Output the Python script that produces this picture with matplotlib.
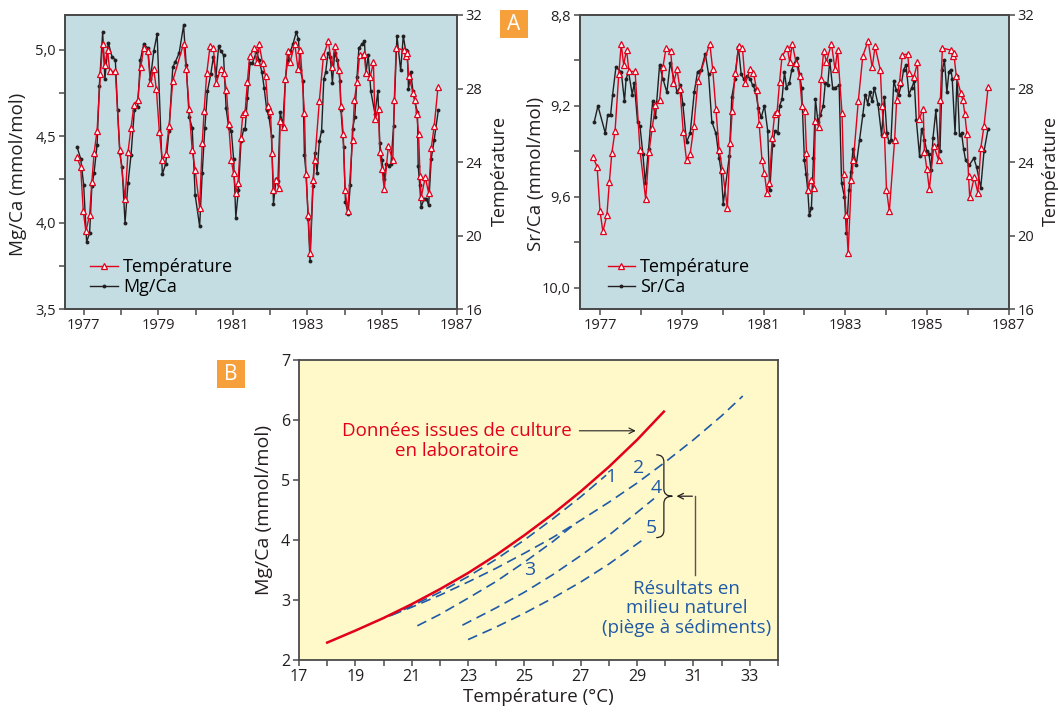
import matplotlib
matplotlib.use("Agg")
import matplotlib.pyplot as plt
from matplotlib.path import Path
from matplotlib.patches import PathPatch, Rectangle
from matplotlib.lines import Line2D

plt.rcParams['font.family'] = ['Open Sans', 'DejaVu Sans']

RED = '#e2001a'
DARK = '#231f20'
BLUE = '#1f5aa6'
BG_A = '#c3dde3'
BG_B = '#fff9c9'
ORANGE = '#f6a03b'
SPINE = '#4a4a4a'

# ---- panel A : monthly series (decimal years) ----
temp_years = [
    1976.82, 1976.92, 1976.99, 1977.06, 1977.16, 1977.22, 1977.28, 1977.36, 1977.45, 1977.51,
    1977.57, 1977.64, 1977.70, 1977.85, 1977.97, 1978.11, 1978.19, 1978.27, 1978.35, 1978.45,
    1978.53, 1978.61, 1978.72, 1978.79, 1978.88, 1978.95, 1979.03, 1979.11, 1979.20, 1979.29,
    1979.39, 1979.68, 1979.75, 1979.83, 1979.91, 1979.99, 1980.11, 1980.18, 1980.23, 1980.30,
    1980.39, 1980.48, 1980.55, 1980.67, 1980.75, 1980.83, 1980.89, 1980.96, 1981.02, 1981.08,
    1981.14, 1981.21, 1981.27, 1981.33, 1981.39, 1981.45, 1981.58, 1981.64, 1981.70, 1981.80,
    1981.88, 1981.94, 1982.01, 1982.05, 1982.09, 1982.15, 1982.23, 1982.27, 1982.36, 1982.41,
    1982.47, 1982.54, 1982.66, 1982.75, 1982.81, 1982.92, 1982.96, 1983.02, 1983.07, 1983.15,
    1983.20, 1983.32, 1983.43, 1983.56, 1983.66, 1983.73, 1983.86, 1983.90, 1983.96, 1984.01,
    1984.08, 1984.21, 1984.26, 1984.33, 1984.40, 1984.53, 1984.57, 1984.68, 1984.77, 1984.81,
    1984.91, 1984.94, 1985.00, 1985.06, 1985.17, 1985.29, 1985.33, 1985.38, 1985.59, 1985.63,
    1985.66, 1985.72, 1985.83, 1985.88, 1985.93, 1985.98, 1986.02, 1986.05, 1986.16, 1986.25,
    1986.32, 1986.40, 1986.50]
temp_vals = [
    24.28, 23.73, 21.35, 20.23, 21.14, 22.94, 24.49, 25.72, 28.79, 30.41,
    29.29, 30.12, 28.93, 28.93, 24.64, 21.97, 24.56, 25.86, 27.11, 27.40,
    29.15, 30.23, 30.05, 28.28, 29.04, 27.96, 25.65, 24.10, 24.46, 25.95,
    28.43, 30.45, 29.08, 26.88, 24.67, 23.59, 21.53, 25.03, 26.80, 28.82,
    30.32, 30.23, 28.28, 29.06, 28.86, 27.92, 26.05, 24.10, 23.39, 22.33,
    22.87, 25.32, 26.62, 26.75, 28.36, 29.75, 30.23, 29.42, 30.45, 29.37,
    28.66, 27.07, 26.80, 24.51, 22.51, 23.05, 22.62, 26.24, 25.90, 28.52,
    30.05, 29.46, 30.45, 29.04, 30.12, 26.68, 23.34, 21.14, 19.04, 23.05,
    24.13, 27.34, 29.78, 30.59, 29.15, 30.29, 29.01, 27.04, 25.54, 22.51,
    21.33, 25.23, 27.40, 28.34, 29.84, 29.87, 28.84, 28.61, 29.42, 26.35,
    26.91, 24.56, 23.61, 22.53, 24.87, 24.10, 27.38, 30.20, 30.09, 29.78,
    29.91, 28.68, 27.78, 27.38, 26.62, 25.54, 23.25, 22.09, 23.18, 22.33,
    24.75, 25.97, 28.07]

mg_years = [
    1976.82, 1976.92, 1977.00, 1977.08, 1977.16, 1977.22, 1977.28, 1977.36, 1977.42, 1977.51,
    1977.57, 1977.66, 1977.76, 1977.85, 1977.91, 1977.97, 1978.03, 1978.11, 1978.19, 1978.27,
    1978.36, 1978.45, 1978.52, 1978.61, 1978.72, 1978.79, 1978.88, 1978.97, 1979.11, 1979.20,
    1979.29, 1979.39, 1979.46, 1979.56, 1979.68, 1979.75, 1979.83, 1979.91, 1979.99, 1980.11,
    1980.18, 1980.25, 1980.32, 1980.41, 1980.48, 1980.55, 1980.62, 1980.68, 1980.75, 1980.82,
    1980.89, 1980.96, 1981.02, 1981.08, 1981.15, 1981.22, 1981.29, 1981.33, 1981.39, 1981.46,
    1981.52, 1981.64, 1981.70, 1981.78, 1981.84, 1981.91, 1981.97, 1982.04, 1982.09, 1982.16,
    1982.21, 1982.27, 1982.34, 1982.41, 1982.47, 1982.54, 1982.61, 1982.70, 1982.76, 1982.81,
    1982.88, 1982.92, 1982.97, 1983.02, 1983.07, 1983.15, 1983.20, 1983.26, 1983.32, 1983.38,
    1983.44, 1983.49, 1983.55, 1983.61, 1983.67, 1983.73, 1983.80, 1983.87, 1983.90, 1983.97,
    1984.02, 1984.09, 1984.15, 1984.21, 1984.27, 1984.33, 1984.38, 1984.46, 1984.53, 1984.57,
    1984.63, 1984.70, 1984.81, 1984.89, 1984.94, 1985.00, 1985.06, 1985.12, 1985.19, 1985.24,
    1985.31, 1985.40, 1985.50, 1985.57, 1985.63, 1985.68, 1985.71, 1985.77, 1985.83, 1985.88,
    1985.95, 1985.97, 1986.01, 1986.05, 1986.13, 1986.19, 1986.25, 1986.32, 1986.40, 1986.51]
mg_vals = [
    4.44, 4.37, 4.22, 3.89, 3.94, 4.21, 4.29, 4.45, 4.79, 5.10,
    4.83, 5.04, 4.96, 4.94, 4.65, 4.40, 4.32, 4.00, 4.23, 4.39,
    4.65, 4.67, 4.94, 5.03, 5.01, 4.83, 4.99, 5.09, 4.28, 4.34,
    4.53, 4.90, 4.93, 4.98, 5.14, 4.91, 4.61, 4.55, 4.16, 3.98,
    4.29, 4.55, 4.76, 4.86, 4.96, 4.85, 5.02, 4.99, 4.97, 4.66,
    4.55, 4.53, 4.37, 4.03, 4.19, 4.47, 4.54, 4.54, 4.72, 4.92,
    4.92, 4.99, 4.94, 4.87, 4.78, 4.65, 4.61, 4.50, 4.11, 4.25,
    4.24, 4.64, 4.56, 4.83, 4.94, 4.99, 5.03, 5.10, 5.06, 4.88,
    4.82, 4.39, 4.27, 4.02, 3.78, 4.21, 4.40, 4.29, 4.47, 4.53,
    4.83, 4.87, 4.98, 4.96, 4.81, 4.98, 4.94, 4.82, 4.65, 4.44,
    4.12, 4.05, 4.22, 4.54, 4.61, 4.84, 5.01, 5.03, 5.05, 4.86,
    4.97, 4.76, 4.63, 4.76, 4.46, 4.36, 4.25, 4.34, 4.33, 4.34,
    4.56, 5.08, 4.88, 5.08, 5.00, 4.99, 4.77, 4.87, 4.76, 4.70,
    4.64, 4.33, 4.22, 4.09, 4.14, 4.14, 4.10, 4.37, 4.48, 4.65]

sr_years = [
    1976.85, 1976.94, 1977.12, 1977.18, 1977.25, 1977.30, 1977.38, 1977.51, 1977.59, 1977.63,
    1977.69, 1977.78, 1977.83, 1977.91, 1977.97, 1978.04, 1978.10, 1978.18, 1978.28, 1978.35,
    1978.45, 1978.53, 1978.63, 1978.71, 1978.88, 1978.96, 1979.02, 1979.11, 1979.20, 1979.30,
    1979.38, 1979.47, 1979.57, 1979.65, 1979.73, 1979.83, 1979.91, 1979.96, 1980.01, 1980.16,
    1980.22, 1980.30, 1980.38, 1980.45, 1980.51, 1980.60, 1980.67, 1980.73, 1980.80, 1980.87,
    1980.94, 1981.02, 1981.10, 1981.15, 1981.22, 1981.28, 1981.35, 1981.39, 1981.45, 1981.51,
    1981.56, 1981.63, 1981.69, 1981.76, 1981.81, 1981.88, 1981.93, 1982.00, 1982.04, 1982.08,
    1982.12, 1982.17, 1982.22, 1982.27, 1982.33, 1982.39, 1982.46, 1982.51, 1982.57, 1982.62,
    1982.69, 1982.75, 1982.85, 1982.91, 1982.98, 1983.03, 1983.09, 1983.14, 1983.19, 1983.27,
    1983.35, 1983.43, 1983.49, 1983.55, 1983.60, 1983.66, 1983.71, 1983.80, 1983.89, 1983.96,
    1984.02, 1984.07, 1984.12, 1984.19, 1984.25, 1984.31, 1984.37, 1984.43, 1984.49, 1984.56,
    1984.63, 1984.69, 1984.74, 1984.82, 1984.87, 1984.94, 1985.00, 1985.05, 1985.10, 1985.15,
    1985.22, 1985.28, 1985.32, 1985.38, 1985.43, 1985.49, 1985.54, 1985.59, 1985.62, 1985.69,
    1985.74, 1985.80, 1985.85, 1985.90, 1985.95, 1986.04, 1986.15, 1986.22, 1986.32, 1986.40,
    1986.50]
sr_vals = [
    9.27, 9.20, 9.32, 9.24, 9.24, 9.15, 9.03, 9.05, 9.18, 9.08,
    9.05, 9.15, 9.10, 9.27, 9.29, 9.41, 9.54, 9.39, 9.18, 9.25,
    9.02, 9.08, 9.14, 9.01, 9.14, 9.11, 9.19, 9.36, 9.32, 9.14,
    9.05, 9.04, 8.97, 9.06, 9.27, 9.32, 9.43, 9.49, 9.63, 9.42,
    9.16, 9.08, 8.94, 9.06, 9.08, 9.07, 9.08, 9.11, 9.13, 9.21,
    9.25, 9.20, 9.31, 9.57, 9.37, 9.31, 9.32, 9.20, 9.17, 9.05,
    9.12, 9.10, 9.04, 9.01, 8.99, 9.06, 9.12, 9.44, 9.50, 9.57,
    9.68, 9.65, 9.43, 9.17, 9.27, 9.24, 9.20, 9.10, 9.11, 9.00,
    9.12, 9.12, 9.11, 9.54, 9.60, 9.76, 9.57, 9.49, 9.39, 9.46,
    9.35, 9.24, 9.15, 9.19, 9.14, 9.18, 9.12, 9.19, 9.33, 9.16,
    9.32, 9.36, 9.35, 9.09, 9.13, 9.15, 9.11, 9.04, 9.02, 9.15,
    9.12, 9.09, 9.26, 9.42, 9.30, 9.35, 9.40, 9.41, 9.48, 9.34,
    9.22, 9.37, 9.40, 9.04, 9.00, 9.14, 9.05, 9.04, 9.08, 9.32,
    9.07, 9.33, 9.32, 9.39, 9.44, 9.46, 9.43, 9.47, 9.56, 9.40,
    9.30]

year_ticks = list(range(1977, 1988))
mg_major = [3.5, 4.0, 4.5, 5.0]
mg_minor = [3.75, 4.25, 4.75]
sr_major = [8.8, 9.2, 9.6, 10.0]
sr_minor = [9.0, 9.4, 9.8]
temp_ticks = [16, 20, 24, 28, 32]

# ---- panel B : calibration curves ----
lab_t = [18, 19, 20, 21, 22, 23, 24, 25, 26, 27, 28, 29, 29.95]
lab_mg = [2.29, 2.49, 2.70, 2.93, 3.18, 3.45, 3.75, 4.08, 4.43, 4.81, 5.22, 5.67, 6.14]
nat_curves = {
    '1': ([20.2, 21, 22, 23, 24, 25, 26, 27, 27.9],
          [2.73, 2.90, 3.13, 3.39, 3.68, 4.00, 4.35, 4.72, 5.08]),
    '2': ([20.3, 21, 22, 23, 24, 25, 26, 27, 28, 29, 30, 31, 32, 32.75],
          [2.75, 2.88, 3.08, 3.30, 3.53, 3.78, 4.04, 4.33, 4.63, 4.95, 5.30, 5.67, 6.07, 6.40]),
    '3': ([21.2, 22, 23, 24, 25, 26, 26.85],
          [2.57, 2.76, 3.03, 3.31, 3.63, 3.97, 4.29]),
    '4': ([22.8, 24, 25, 26, 27, 28, 29, 29.6],
          [2.58, 2.87, 3.13, 3.42, 3.74, 4.08, 4.46, 4.69]),
    '5': ([23.0, 24, 25, 26, 27, 28, 29.25],
          [2.34, 2.55, 2.78, 3.03, 3.30, 3.60, 4.02]),
}
curve_labels = {'1': (28.05, 5.05), '2': (29.05, 5.2), '3': (25.2, 3.5),
                '4': (29.68, 4.87), '5': (29.52, 4.2)}

W, H = 1058, 713
fig = plt.figure(figsize=(W / 100, H / 100), dpi=100)


def px_rect(left, top, right, bottom):
    return [left / W, 1 - bottom / H, (right - left) / W, (bottom - top) / H]


def comma(v):
    return f'{v:.1f}'.replace('.', ',')


def style(ax, size=10):
    for s in ax.spines.values():
        s.set_color(SPINE)
        s.set_linewidth(1.3)
    ax.tick_params(which='both', direction='out', length=4.5, width=1.1,
                   color=SPINE, labelsize=size, labelcolor=DARK, pad=2)


def top_panel(rect, p_years, p_vals, p_name, ylim, major, minor, ylabel, ylab_x, tlab_x):
    ax = fig.add_axes(rect)
    ax.set_facecolor(BG_A)
    ax.plot(p_years, p_vals, color=DARK, lw=1.0, marker='o', ms=2.8, mew=0, zorder=2)
    ax.set_xlim(1976.5, 1987)
    ax.set_ylim(*ylim)
    ax.set_yticks(major)
    ax.set_yticklabels([comma(v) for v in major])
    ax.set_yticks(minor, minor=True)
    ax.set_xticks(year_ticks)
    ax.set_xticklabels([str(y) if y % 2 else '' for y in year_ticks])
    ax.set_ylabel(ylabel, fontsize=13.5, color=DARK)
    ax.yaxis.set_label_coords(ylab_x, 0.46)
    style(ax, 10.5)

    axt = ax.twinx()
    axt.plot(temp_years, temp_vals, color=RED, lw=1.0, marker='^', ms=5,
             mfc='white', mec=RED, mew=0.9, zorder=3)
    axt.set_ylim(16, 32)
    axt.set_yticks(temp_ticks)
    axt.set_ylabel('Température', fontsize=13, color=DARK)
    axt.yaxis.set_label_coords(tlab_x, 0.47)
    style(axt, 10.5)

    handles = [Line2D([], [], color=RED, lw=1.0, marker='^', ms=5, mfc='white', mec=RED, mew=0.9),
               Line2D([], [], color=DARK, lw=1.0, marker='o', ms=2.8, mew=0)]
    axt.legend(handles, ['Température', p_name], loc='lower left', bbox_to_anchor=(0.065, 0.045),
               frameon=False, fontsize=13, handlelength=1.5, handletextpad=0.3,
               labelspacing=0.1, borderpad=0, borderaxespad=0)
    return ax, axt


top_panel(px_rect(65, 15, 456.6, 309.3), mg_years, mg_vals, 'Mg/Ca', (3.5, 5.2),
          mg_major, mg_minor, 'Mg/Ca (mmol/mol)', -0.098, 1.088)
top_panel(px_rect(580, 15, 1008.5, 309.3), sr_years, sr_vals, 'Sr/Ca', (10.095, 8.8),
          sr_major, sr_minor, 'Sr/Ca (mmol/mol)', -0.082, 1.078)

# ---- panel B ----
axb = fig.add_axes(px_rect(299, 360, 778, 660))
axb.set_facecolor(BG_B)
axb.plot(lab_t, lab_mg, color=RED, lw=1.8, zorder=4)
for key, (tx, my) in nat_curves.items():
    axb.plot(tx, my, color=BLUE, lw=1.2, ls=(0, (6, 3.5)), zorder=3)
    lx, ly = curve_labels[key]
    axb.text(lx, ly, key, color=BLUE, fontsize=14, ha='center', va='center')

axb.set_xlim(17, 34)
axb.set_ylim(2, 7)
axb.set_xticks(range(17, 35))
axb.set_xticklabels([str(t) if t % 2 and t < 34 else '' for t in range(17, 35)])
axb.set_yticks(range(2, 8))
axb.set_xlabel('Température (°C)', fontsize=13.5, color=DARK)
axb.set_ylabel('Mg/Ca (mmol/mol)', fontsize=14, color=DARK)
axb.xaxis.set_label_coords(0.5, -0.092)
axb.yaxis.set_label_coords(-0.054, 0.5)
style(axb, 11.5)

axb.text(22.6, 5.82, 'Données issues de culture', color=RED, fontsize=13.5, ha='center', va='center')
axb.text(22.6, 5.48, 'en laboratoire', color=RED, fontsize=13.5, ha='center', va='center')
axb.annotate('', xy=(29.05, 5.82), xytext=(26.85, 5.82),
             arrowprops=dict(arrowstyle='->', color=DARK, lw=0.8))

# curly brace grouping curves 2, 4 and 5
bx0, bx1, btip = 29.68, 29.95, 30.25
btop, bmid, bbot = 5.42, 4.73, 4.04
r = 0.12
verts = [(bx0, btop), (bx1, btop), (bx1, btop - r),
         (bx1, bmid + r), (bx1, bmid), (btip, bmid),
         (bx1, bmid), (bx1, bmid - r),
         (bx1, bbot + r), (bx1, bbot), (bx0, bbot)]
codes = [Path.MOVETO, Path.CURVE3, Path.CURVE3,
         Path.LINETO, Path.CURVE3, Path.CURVE3,
         Path.CURVE3, Path.CURVE3,
         Path.LINETO, Path.CURVE3, Path.CURVE3]
axb.add_patch(PathPatch(Path(verts, codes), fill=False, ec=DARK, lw=0.9, zorder=5))
axb.plot([31.05, 31.05], [3.42, 4.73], color='#555555', lw=1.0)
axb.annotate('', xy=(30.3, 4.73), xytext=(31.06, 4.73),
             arrowprops=dict(arrowstyle='->', color=DARK, lw=0.9))
for txt, yy in [('Résultats en', 3.19), ('milieu naturel', 2.86), ('(piège à sédiments)', 2.54)]:
    axb.text(30.75, yy, txt, color=BLUE, fontsize=13.5, ha='center', va='center')

# panel letters
for letter, (l, t) in {'A': (500, 10), 'B': (217, 360)}.items():
    fig.add_artist(Rectangle((l / W, 1 - (t + 28) / H), 28 / W, 28 / H,
                             transform=fig.transFigure, color=ORANGE, lw=0))
    fig.text((l + 14) / W, 1 - (t + 14) / H, letter, color='white', fontsize=15,
             ha='center', va='center')

fig.savefig('out.png', dpi=100)
